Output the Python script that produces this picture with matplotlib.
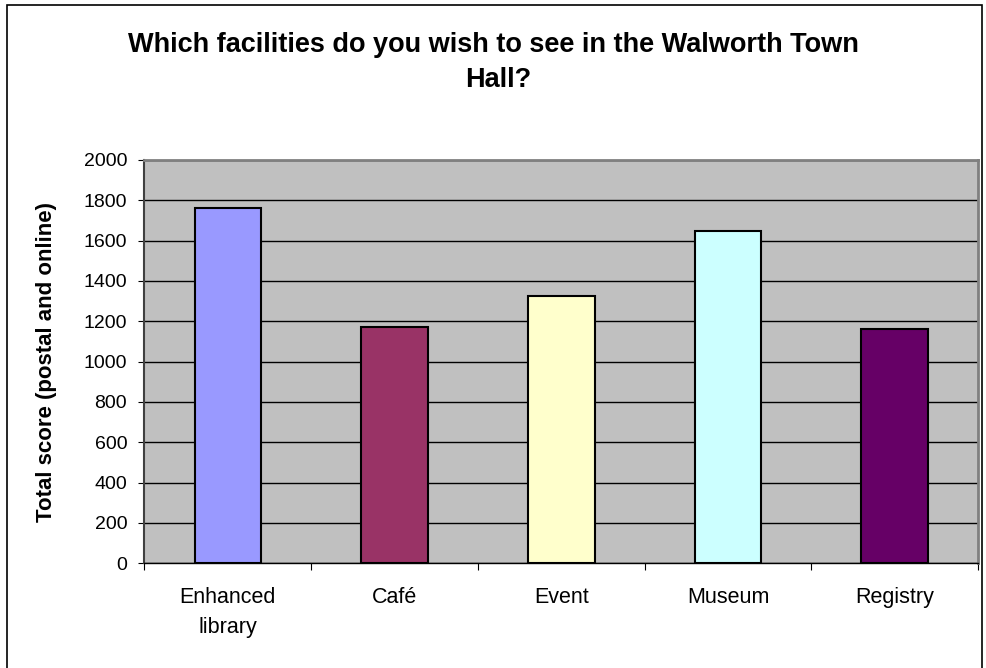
import numpy as np
import matplotlib
matplotlib.use('Agg')
import matplotlib.pyplot as plt
from matplotlib.patches import Rectangle

# Datos
categorias = ['Enhanced\nlibrary', 'Café', 'Event', 'Museum', 'Registry']
puntuaciones = [1760, 1173, 1327, 1649, 1162]
colores = ['#9999FF', '#993366', '#FFFFCC', '#CCFFFF', '#660066']
ticks_y = [0, 200, 400, 600, 800, 1000, 1200, 1400, 1600, 1800, 2000]

plt.rcParams['font.family'] = ['Liberation Sans', 'DejaVu Sans']

fig = plt.figure(figsize=(9.87, 6.68), dpi=100)
ax = fig.add_axes([144.5 / 987, 1 - 563.3 / 668, (978 - 144.5) / 987, (563.3 - 160) / 668])

# Marco exterior del gráfico
fig.patches.append(Rectangle((7 / 987, -5 / 668), 975 / 987, 668 / 668,
                             transform=fig.transFigure, fill=False,
                             edgecolor='black', linewidth=1.2))

x = np.arange(len(categorias))
ax.set_facecolor('#C0C0C0')
ax.bar(x, puntuaciones, width=0.4, color=colores, edgecolor='black', linewidth=1.5, zorder=3)

ax.set_xlim(-0.5, len(categorias) - 0.5)
ax.set_ylim(0, 2000)
ax.set_yticks(ticks_y)
ax.set_yticklabels([str(t) for t in ticks_y], fontsize=14)
ax.yaxis.grid(True, color='black', linewidth=1.0, zorder=1)
ax.set_axisbelow(True)

# Marcas del eje x entre categorías, etiquetas centradas
ax.set_xticks(np.arange(-0.5, len(categorias)), minor=False)
ax.set_xticklabels([])
ax.set_xticks(x, minor=True)
ax.set_xticklabels(categorias, minor=True, fontsize=15.5, linespacing=1.55)
ax.tick_params(axis='x', which='minor', length=0, pad=17)
ax.tick_params(axis='x', which='major', length=5, color='black')
ax.tick_params(axis='y', length=4.5, color='black', pad=8)

for lado in ['top', 'right']:
    ax.spines[lado].set_color('#808080')
    ax.spines[lado].set_linewidth(2)
ax.spines['left'].set_color('#404040')
ax.spines['left'].set_linewidth(1.5)
ax.spines['bottom'].set_color('black')
ax.spines['bottom'].set_linewidth(1.0)

ax.set_ylabel('Total score (postal and online)', fontsize=16, fontweight='bold')
ax.yaxis.set_label_coords((47 - 144.5) / 833.5, 0.5)
ax.yaxis.label.set_va('center')

fig.text(0.5, 1 - 52 / 668, 'Which facilities do you wish to see in the Walworth Town',
         ha='center', va='baseline', fontsize=19.5, fontweight='bold')
fig.text(0.505, 1 - 87 / 668, 'Hall?', ha='center', va='baseline', fontsize=19.5, fontweight='bold')

fig.savefig('out.png', dpi=100)
